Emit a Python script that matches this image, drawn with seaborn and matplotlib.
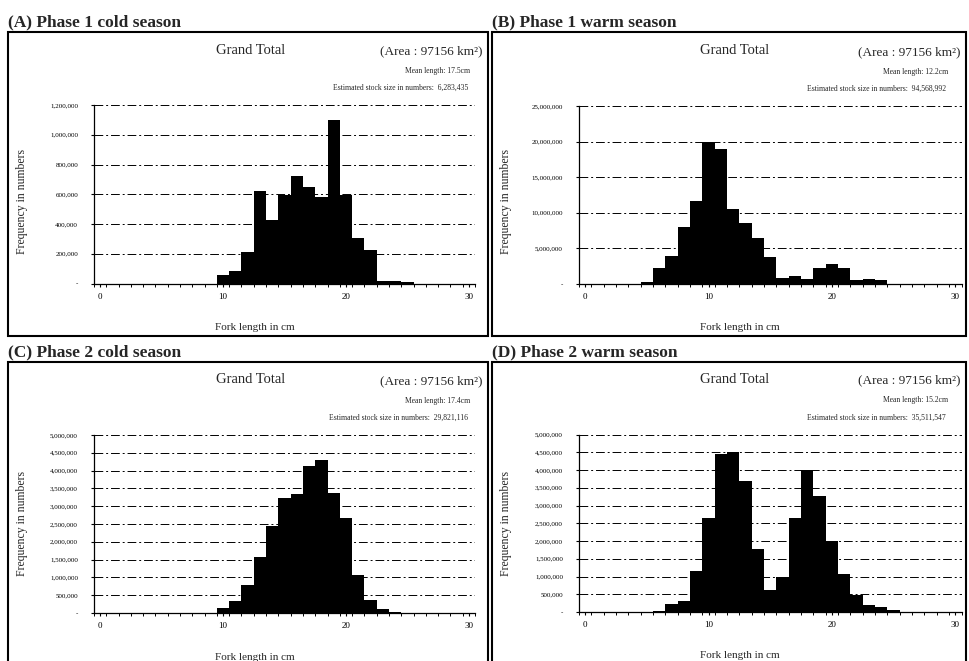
import matplotlib
matplotlib.use("Agg")
import matplotlib.pyplot as plt
import seaborn as sns
from matplotlib.patches import Rectangle
from matplotlib.ticker import FuncFormatter, FixedLocator

# Fork-length classes (cm) and estimated numbers of fish in each class
len_a = [10, 11, 12, 13, 14, 15, 16, 17, 18, 19, 20, 21, 22, 23, 24, 25]
num_a = [56000, 85000, 213000, 623000, 426000, 594000, 722000, 650000,
         583000, 1099000, 594000, 303000, 224000, 15000, 15000, 12000]

len_b = [5, 6, 7, 8, 9, 10, 11, 12, 13, 14, 15, 16, 17, 18, 19, 20, 21, 22, 23, 24]
num_b = [330000, 2200000, 3930000, 7960000, 11660000, 20000000, 18900000,
         10600000, 8500000, 6400000, 3750000, 800000, 1170000, 700000,
         2300000, 2800000, 2200000, 560000, 660000, 550000]

len_c = [9, 10, 11, 12, 13, 14, 15, 16, 17, 18, 19, 20, 21, 22, 23, 24]
num_c = [10000, 141000, 338000, 779000, 1559000, 2441000, 3239000, 3333000,
         4131000, 4300000, 3380000, 2657000, 1061000, 357000, 120000, 40000]

len_d = [6, 7, 8, 9, 10, 11, 12, 13, 14, 15, 16, 17, 18, 19, 20, 21, 22, 23, 24, 25]
num_d = [28000, 236000, 302000, 1160000, 2642000, 4462000, 4519000, 3679000,
         1764000, 613000, 991000, 2642000, 3991000, 3274000, 2009000, 1066000,
         472000, 208000, 142000, 50000]

titles = ["(A) Phase 1 cold season", "(B) Phase 1 warm season",
          "(C) Phase 2 cold season", "(D) Phase 2 warm season"]
mean_texts = ["Mean length: 17.5cm", "Mean length: 12.2cm",
              "Mean length: 17.4cm", "Mean length: 15.2cm"]
stock_texts = ["Estimated stock size in numbers:  6,283,435",
               "Estimated stock size in numbers:  94,568,992",
               "Estimated stock size in numbers:  29,821,116",
               "Estimated stock size in numbers:  35,511,547"]
y_max = [1200000, 25000000, 5000000, 5000000]
y_step = [200000, 5000000, 500000, 500000]
x_ticks = [0, 10, 20, 30]

sns.set_style("white")
plt.rcParams["font.family"] = ["Liberation Serif", "DejaVu Serif"]

W, H = 969, 661
fig = plt.figure(figsize=(W / 100, H / 100), dpi=100)


def fx(px):
    return px / W


def fy(py):
    return 1 - py / H


# panel geometry in pixels: frame (l, t, r, b) and plot area (l, t, r, b)
frames = [(8, 32, 488, 336), (492, 32, 966, 336),
          (8, 362, 488, 700), (492, 362, 966, 700)]
plots = [(94, 105, 475, 283.5), (579, 106, 961.5, 284),
         (94, 435, 475, 613), (579, 434.5, 961.5, 612)]
ylabel_shift = [7, 7, 0, 0]
data = [(len_a, num_a), (len_b, num_b), (len_c, num_c), (len_d, num_d)]

fmt = FuncFormatter(lambda v, p: "-" if v == 0 else f"{int(round(v)):,}")

for i in range(4):
    fl, ft, fr, fb = frames[i]
    pl, pt, pr, pb = plots[i]
    fig.patches.append(Rectangle((fx(fl), fy(fb)), fx(fr - fl), (fb - ft) / H,
                                 transform=fig.transFigure, fill=False,
                                 edgecolor="black", linewidth=1.5, zorder=0))
    fig.text(fx(fl), fy(ft - 2), titles[i], fontsize=12.5, fontweight="bold",
             ha="left", va="bottom")

    ax = fig.add_axes([fx(pl), fy(pb), fx(pr - pl), (pb - pt) / H])
    lengths, nums = data[i]
    sns.histplot(x=lengths, weights=nums, discrete=True, color="black",
                 edgecolor="black", linewidth=0, alpha=1, ax=ax, zorder=3)
    ax.set_xlim(-0.5, 30.5)
    ax.set_ylim(0, y_max[i])
    ticks = list(range(0, y_max[i] + 1, y_step[i]))
    ax.yaxis.set_major_locator(FixedLocator(ticks))
    ax.yaxis.set_major_formatter(fmt)
    ax.xaxis.set_major_locator(FixedLocator(x_ticks))
    ax.xaxis.set_minor_locator(FixedLocator([k - 0.5 for k in range(0, 32)]))
    ax.set_xticklabels([str(t) for t in x_ticks])
    ax.set_xlabel("")
    ax.set_ylabel("")
    ax.set_facecolor("none")
    for g in ticks[1:]:
        ax.axhline(g, color="black", linewidth=0.7, linestyle=(0, (9, 3, 2, 3)),
                   zorder=1)
    for s in ("top", "right"):
        ax.spines[s].set_visible(False)
    for s in ("left", "bottom"):
        ax.spines[s].set_visible(True)
        ax.spines[s].set_color("black")
        ax.spines[s].set_linewidth(0.9)
    ax.tick_params(axis="y", which="major", direction="out", length=2.5,
                   width=0.8, pad=9, labelsize=5, left=True, colors="black")
    ax.tick_params(axis="x", which="major", direction="out", length=2.5,
                   width=0.8, pad=4, labelsize=6.5, bottom=True, colors="black")
    ax.tick_params(axis="x", which="minor", direction="out", length=2,
                   width=0.7, bottom=True, colors="black")

    cx = fl + 243
    fig.text(fx(cx), fy(pt - 55), "Grand Total", fontsize=10.5,
             ha="center", va="center")
    fig.text(fx(fr - 6), fy(pt - 54), "(Area : 97156 km²)", fontsize=9.5,
             ha="right", va="center")
    fig.text(fx(fr - 18), fy(pt - 34), mean_texts[i], fontsize=5.5,
             ha="right", va="center")
    fig.text(fx(fr - 20), fy(pt - 17), stock_texts[i], fontsize=5.5,
             ha="right", va="center")
    fig.text(fx(fl + 14), fy((pt + pb) / 2 + ylabel_shift[i]),
             "Frequency in numbers", fontsize=8.5, rotation=90,
             ha="center", va="center")
    fig.text(fx((pl + pr) / 2 - 30), fy(pb + 44), "Fork length in cm",
             fontsize=8, ha="center", va="center")

fig.savefig("out.png", dpi=100, facecolor="white")
